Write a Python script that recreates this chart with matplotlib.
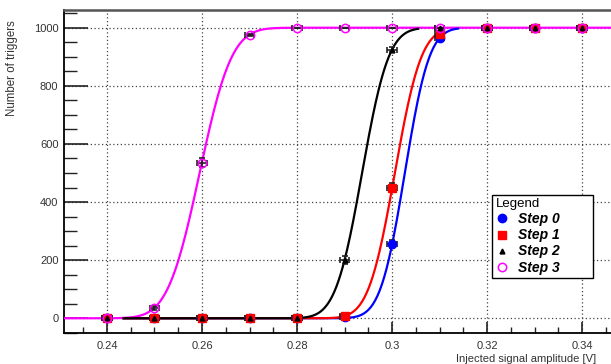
import math
import numpy as np
import matplotlib
matplotlib.use('Agg')
import matplotlib.pyplot as plt
from matplotlib.ticker import MultipleLocator

plt.rcParams['font.family'] = ['Liberation Sans', 'DejaVu Sans']

amp = [0.24, 0.25, 0.26, 0.27, 0.28, 0.29, 0.30, 0.31, 0.32, 0.33, 0.34]

step0 = [0, 0, 0, 0, 0, 3, 255, 965, 1000, 1000, 1000]
step1 = [0, 0, 0, 0, 0, 8, 450, 980, 1000, 1000, 1000]
step2 = [0, 0, 0, 0, 0, 200, 925, 1000, 1000, 1000, 1000]
step3 = [0, 35, 535, 975, 1000, 1000, 1000, 1000, 1000, 1000, 1000]

err0 = [0, 0, 0, 0, 0, 2, 14, 6, 0, 0, 0]
err1 = [0, 0, 0, 0, 0, 3, 16, 4, 0, 0, 0]
err2 = [0, 0, 0, 0, 0, 13, 8, 0, 0, 0, 0]
err3 = [0, 6, 16, 5, 0, 0, 0, 0, 0, 0, 0]

# erf fit parameters: mean, sigma, fit range
fit_mu = [0.3027, 0.3006, 0.2937, 0.2595]
fit_sigma = [0.00405, 0.00438, 0.00439, 0.0053]
fit_lo = [0.2435, 0.2435, 0.2435, 0.2300]
fit_hi = [0.3139, 0.3100, 0.3055, 0.3470]

labels = ['Step 0', 'Step 1', 'Step 2', 'Step 3']
colors = ['#0000ff', '#ff0000', '#000000', '#ff00ff']

fig = plt.figure(figsize=(6.11, 3.64), dpi=100)
ax = fig.add_axes([64 / 611, 1 - 333 / 364, 1 - 64 / 611, (333 - 10) / 364])

erf = np.vectorize(math.erf)

# curves (magenta first, others on top)
for i in [3, 0, 1, 2]:
    xs = np.linspace(fit_lo[i], fit_hi[i], 300)
    ys = 500 * (1 + erf((xs - fit_mu[i]) / (fit_sigma[i] * math.sqrt(2))))
    ax.plot(xs, ys, color=colors[i], lw=1.6, zorder=3)

series = [step0, step1, step2, step3]
errs = [err0, err1, err2, err3]
styles = [
    dict(marker='o', ms=6, mfc=colors[0], mec=colors[0]),
    dict(marker='s', ms=5.5, mfc=colors[1], mec=colors[1]),
    dict(marker='^', ms=3.5, mfc=colors[2], mec=colors[2]),
    dict(marker='o', ms=6, mfc='none', mec=colors[3], mew=1.1),
]
handles = []
for i in range(4):
    ax.errorbar(amp, series[i], xerr=0.001, yerr=errs[i], fmt='none',
                ecolor='#222222', elinewidth=1.2, capsize=2.2, capthick=1.2, zorder=4)
    h, = ax.plot(amp, series[i], ls='none', zorder=5, label=labels[i], **styles[i])
    handles.append(h)

ax.set_xlim(0.23095, 0.3461)
ax.set_ylim(-50.6, 1061)

ax.xaxis.set_major_locator(MultipleLocator(0.02))
ax.xaxis.set_minor_locator(MultipleLocator(0.005))
ax.yaxis.set_major_locator(MultipleLocator(200))
ax.yaxis.set_minor_locator(MultipleLocator(50))
ax.xaxis.set_major_formatter(matplotlib.ticker.FuncFormatter(
    lambda v, p: '0.3' if abs(v - 0.30) < 1e-9 else f'{v:.2f}'))

ax.grid(True, which='major', linestyle=(0, (1, 2)), color='#444444', lw=0.9)
ax.tick_params(axis='both', which='both', direction='in', top=False, right=False,
               labelsize=8, labelcolor='#333333', color='#222222')
ax.tick_params(axis='x', which='major', length=8, width=1.2, pad=6)
ax.tick_params(axis='x', which='minor', length=4, width=1.0)
ax.tick_params(axis='y', which='major', length=17, width=1.2, pad=4)
ax.tick_params(axis='y', which='minor', length=9, width=1.0)

for s in ['left', 'bottom']:
    ax.spines[s].set_linewidth(1.3)
ax.spines['top'].set_linewidth(1.8)
ax.spines['top'].set_color('#555555')
ax.spines['right'].set_visible(False)

fig.text(12 / 611, 1 - 20 / 364, 'Number of triggers', rotation=90, ha='center', va='top',
         fontsize=8.3, color='#333333')
fig.text(596 / 611, 1 - 359 / 364, 'Injected signal amplitude [V]', ha='right', va='center',
         fontsize=8, color='#333333')

leg = ax.legend(handles=handles, title='Legend', loc='lower left',
                bbox_to_anchor=(492 / 611, 1 - 278 / 364, 101 / 611, 85 / 364),
                bbox_transform=fig.transFigure, mode='expand', fancybox=False,
                edgecolor='black', framealpha=1, borderaxespad=0, handlelength=1.0,
                handletextpad=0.6, labelspacing=0.15, borderpad=0.25,
                prop=dict(size=10, weight='bold', style='italic'),
                title_fontproperties=dict(size=9.5), alignment='left')
leg.get_frame().set_linewidth(1.0)
leg.set_zorder(10)

fig.savefig('out.png', dpi=100)
